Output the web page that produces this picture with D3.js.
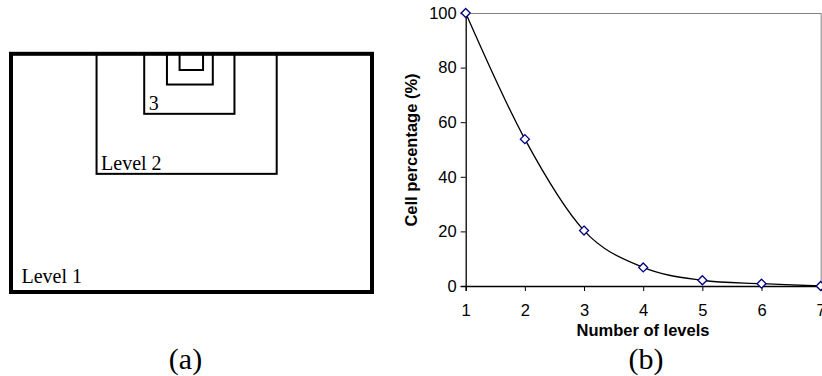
<!DOCTYPE html>
<html>
<head>
<meta charset="utf-8">
<script src="https://cdn.jsdelivr.net/npm/d3@7"></script>
<style>
  html, body { margin: 0; padding: 0; background: #fff; }
  svg { display: block; }
</style>
</head>
<body>
<svg id="fig" width="822" height="376"></svg>
<script>
// Panel (b): share of cells per refinement level
const levels = [1, 2, 3, 4, 5, 6, 7];
const cellPercent = [100, 53.8, 20.3, 6.8, 2.1, 0.85, 0];
const yTicks = [0, 20, 40, 60, 80, 100];

// Panel (a): nested level boxes, expressed as fractions of the outer box
const boxLevels = [1, 2, 3, 4, 5];
const boxLeft   = [0, 0.237, 0.369, 0.432, 0.467];
const boxRight  = [1, 0.736, 0.619, 0.559, 0.532];
const boxBottom = [1, 0.504, 0.252, 0.129, 0.068];
const boxLabels = ["Level 1", "Level 2", "3", "", ""];

const svg = d3.select("#fig");

// ---------- panel (a) ----------
const ax = d3.scaleLinear().domain([0, 1]).range([11, 372]);
const ay = d3.scaleLinear().domain([0, 1]).range([53.8, 292]);

const boxes = boxLevels.map((lv, i) => ({
  lv, l: boxLeft[i], r: boxRight[i], b: boxBottom[i], label: boxLabels[i]
}));

const gA = svg.append("g");
gA.selectAll("rect.box")
  .data(boxes.slice(1))
  .join("rect")
  .attr("class", "box")
  .attr("x", d => ax(d.l))
  .attr("y", ay(0))
  .attr("width", d => ax(d.r) - ax(d.l))
  .attr("height", d => ay(d.b) - ay(0))
  .attr("fill", "none")
  .attr("stroke", "#000")
  .attr("stroke-width", 2);

gA.append("rect")
  .attr("x", ax(0))
  .attr("y", ay(0))
  .attr("width", ax(1) - ax(0))
  .attr("height", ay(1) - ay(0))
  .attr("fill", "none")
  .attr("stroke", "#000")
  .attr("stroke-width", 4);

gA.selectAll("text.lvl")
  .data(boxes.filter(d => d.label))
  .join("text")
  .attr("class", "lvl")
  .attr("x", d => ax(d.l) + (d.lv === 1 ? 10.5 : 4.5))
  .attr("y", d => ay(d.b) - (d.lv === 1 ? 9.5 : 4))
  .attr("font-family", "'Liberation Serif', 'Times New Roman', serif")
  .attr("font-size", 20)
  .attr("fill", "#000")
  .text(d => d.label);

svg.append("text")
  .attr("x", 185.5).attr("y", 369)
  .attr("text-anchor", "middle")
  .attr("font-family", "'Liberation Serif', 'Times New Roman', serif")
  .attr("font-size", 30)
  .text("(a)");

// ---------- panel (b) ----------
const x = d3.scaleLinear().domain([1, 7]).range([465.7, 820.7]);
const y = d3.scaleLinear().domain([0, 100]).range([286, 13]);

const gB = svg.append("g");

// plot frame (top and right)
gB.append("path")
  .attr("d", `M${x(1)},${y(100) + 0.5}H${x(7) + 0.5}V${y(0)}`)
  .attr("fill", "none")
  .attr("stroke", "#808080")
  .attr("stroke-width", 1);

const font = "Arial, 'Liberation Sans', sans-serif";

const yAxis = gB.append("g")
  .attr("transform", `translate(${x(1)},0)`)
  .call(d3.axisLeft(y).tickValues(yTicks).tickSize(5).tickPadding(4).tickFormat(d3.format("d")));
const xAxis = gB.append("g")
  .attr("transform", `translate(0,${y(0)})`)
  .call(d3.axisBottom(x).tickValues(levels).tickSize(5).tickPadding(13).tickFormat(d3.format("d")));

[yAxis, xAxis].forEach(g => {
  g.select(".domain").attr("stroke", "#000").attr("stroke-width", 1.3);
  g.selectAll(".tick line").attr("stroke", "#000");
  g.selectAll(".tick text")
    .attr("font-family", font)
    .attr("font-size", 16.5)
    .attr("fill", "#000");
});

// smoothed series line
const line = d3.line()
  .x((d, i) => x(levels[i]))
  .y(d => y(d))
  .curve(d3.curveCardinal.tension(0));

gB.append("path")
  .datum(cellPercent)
  .attr("d", line)
  .attr("fill", "none")
  .attr("stroke", "#000")
  .attr("stroke-width", 1.3);

// open diamond markers
const r = 4.5;
gB.selectAll("path.mk")
  .data(cellPercent)
  .join("path")
  .attr("class", "mk")
  .attr("transform", (d, i) => `translate(${x(levels[i])},${y(d)})`)
  .attr("d", `M0,${-r}L${r},0L0,${r}L${-r},0Z`)
  .attr("fill", "#fff")
  .attr("stroke", "#000080")
  .attr("stroke-width", 1.3);

// axis titles
gB.append("text")
  .attr("transform", `translate(417,150) rotate(-90)`)
  .attr("text-anchor", "middle")
  .attr("font-family", font)
  .attr("font-weight", "bold")
  .attr("font-size", 16.5)
  .text("Cell percentage (%)");

gB.append("text")
  .attr("x", 643).attr("y", 335.5)
  .attr("text-anchor", "middle")
  .attr("font-family", font)
  .attr("font-weight", "bold")
  .attr("font-size", 16.5)
  .text("Number of levels");

svg.append("text")
  .attr("x", 646).attr("y", 369)
  .attr("text-anchor", "middle")
  .attr("font-family", "'Liberation Serif', 'Times New Roman', serif")
  .attr("font-size", 30)
  .text("(b)");
</script>
</body>
</html>
